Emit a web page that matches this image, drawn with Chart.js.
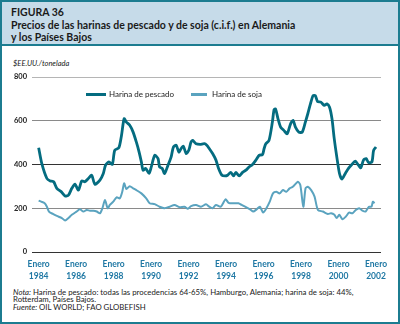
<!DOCTYPE html>
<html>
<head>
<meta charset="utf-8">
<script src="https://cdn.jsdelivr.net/npm/chart.js@4"></script>
<style>
  body { margin: 0; background: #fff; }
  #fig { position: relative; width: 400px; height: 324px; box-sizing: border-box; border: 2px solid #1c7c90; overflow: hidden; font-family: Lato, sans-serif; }
  #head { position: absolute; left: 0; top: 0; width: 396px; height: 42px; background: #c6dbe9; border-bottom: 2px solid #1c7c90; }
  #head div { position: absolute; left: 9px; font-weight: bold; font-size: 10.5px; color: #1a1a1a; white-space: nowrap; }
  #ytitle { position: absolute; left: 11px; top: 57px; font-style: italic; font-size: 7.5px; color: #222; }
  #notes { position: absolute; left: 11px; top: 287px; font-size: 7.8px; line-height: 7.4px; color: #222; white-space: nowrap; }
  canvas { position: absolute; left: -2px; top: -2px; }
</style>
</head>
<body>
<div id="fig">
  <div id="head">
    <div style="top:4px">FIGURA 36</div>
    <div style="top:17px">Precios de las harinas de pescado y de soja (c.i.f.) en Alemania</div>
    <div style="top:29px">y los Países Bajos</div>
  </div>
  <div id="ytitle">$EE.UU./tonelada</div>
  <div id="notes">
    <i>Nota:</i> Harina de pescado: todas las procedencias 64-65%, Hamburgo, Alemania; harina de soja: 44%,<br>
    Rotterdam, Países Bajos.<br>
    <i>Fuente:</i> OIL WORLD; FAO GLOBEFISH
  </div>
  <canvas id="myChart" width="400" height="324"></canvas>
</div>
<script>
// fecha decimal (año) y precio en $EE.UU./tonelada
const fishYears = [1984.0,1984.17,1984.44,1984.62,1984.8,1984.97,1985.2,1985.41,1985.59,1985.77,1985.94,1986.12,1986.3,1986.47,1986.65,1986.83,1987.0,1987.27,1987.45,1987.57,1987.75,1987.93,1988.06,1988.28,1988.42,1988.56,1988.68,1988.86,1989.04,1989.21,1989.36,1989.48,1989.57,1989.71,1989.89,1990.01,1990.19,1990.37,1990.45,1990.59,1990.72,1990.9,1991.07,1991.19,1991.34,1991.48,1991.6,1991.72,1991.87,1992.01,1992.13,1992.22,1992.4,1992.61,1992.84,1992.97,1993.1,1993.28,1993.46,1993.6,1993.78,1993.95,1994.08,1994.25,1994.4,1994.52,1994.7,1994.88,1995.06,1995.23,1995.41,1995.59,1995.76,1995.94,1996.03,1996.12,1996.29,1996.47,1996.56,1996.64,1996.77,1996.91,1997.08,1997.26,1997.44,1997.58,1997.7,1997.88,1998.06,1998.23,1998.36,1998.5,1998.64,1998.76,1998.88,1999.06,1999.24,1999.38,1999.52,1999.65,1999.77,1999.92,2000.05,2000.18,2000.36,2000.53,2000.71,2000.89,2001.06,2001.19,2001.33,2001.47,2001.6,2001.78,2001.87,2002.0];
const fishValues = [477,404,336,325,321,291,276,256,260,291,310,283,325,321,336,351,310,329,359,397,412,401,465,477,533,609,594,579,548,503,457,412,374,382,359,389,442,427,389,382,359,397,435,480,488,457,473,483,450,465,503,510,495,492,495,488,473,450,420,382,351,348,351,364,348,364,348,364,374,389,400,420,442,445,473,495,510,594,651,654,609,571,556,541,586,601,571,548,548,594,632,677,715,715,688,685,670,677,662,609,518,427,359,333,359,382,400,415,397,385,420,427,409,412,465,480];

const soyYears = [1984.0,1984.14,1984.32,1984.44,1984.55,1984.76,1984.97,1985.24,1985.41,1985.59,1985.77,1986.03,1986.2,1986.39,1986.56,1986.74,1986.92,1987.1,1987.27,1987.4,1987.54,1987.68,1987.8,1987.98,1988.16,1988.33,1988.46,1988.56,1988.68,1988.86,1989.04,1989.21,1989.48,1989.74,1989.92,1990.19,1990.45,1990.72,1990.98,1991.25,1991.52,1991.78,1991.96,1992.13,1992.4,1992.66,1992.93,1993.1,1993.28,1993.46,1993.72,1993.97,1994.13,1994.4,1994.66,1994.83,1995.01,1995.28,1995.45,1995.63,1995.8,1995.98,1996.15,1996.33,1996.5,1996.68,1996.86,1997.04,1997.21,1997.39,1997.56,1997.83,1997.96,1998.12,1998.24,1998.36,1998.54,1998.72,1998.9,1999.16,1999.43,1999.6,1999.78,1999.9,2000.04,2000.21,2000.39,2000.56,2000.74,2000.92,2001.1,2001.27,2001.44,2001.62,2001.76,2001.83,2001.92];
const soyValues = [235,230,223,207,185,174,165,155,144,155,170,185,195,185,192,189,189,185,177,200,238,200,215,230,250,245,275,314,288,301,291,283,268,245,223,219,207,200,207,215,205,207,198,210,215,207,218,207,200,215,207,241,225,223,223,215,207,195,185,195,207,180,200,230,268,275,268,283,275,291,298,321,306,207,291,298,283,253,192,185,174,177,170,155,170,150,162,180,177,192,200,189,185,207,207,230,223];

const yearTicks = [1984,1986,1988,1990,1992,1994,1996,1998,2000,2002];
const labels = ['Harina de pescado', 'Harina de soja'];

function toPoints(xs, ys) {
  return xs.map((x, i) => ({ x: x, y: ys[i] }));
}

// leyenda dentro del área del gráfico
const innerLegend = {
  id: 'innerLegend',
  afterDatasetsDraw(chart) {
    const ctx = chart.ctx;
    const items = [
      { x0: 86, x1: 106, tx: 109, ds: chart.data.datasets[0] },
      { x0: 191, x1: 207, tx: 212, ds: chart.data.datasets[1] }
    ];
    const y = 94.5;
    ctx.save();
    items.forEach(it => {
      ctx.strokeStyle = it.ds.borderColor;
      ctx.lineWidth = 3;
      ctx.beginPath();
      ctx.moveTo(it.x0, y);
      ctx.lineTo(it.x1, y);
      ctx.stroke();
      ctx.fillStyle = '#222';
      ctx.font = '8px Lato';
      ctx.textBaseline = 'middle';
      ctx.fillText(it.ds.label, it.tx, y);
    });
    ctx.restore();
  }
};

const ctx = document.getElementById('myChart').getContext('2d');
new Chart(ctx, {
  type: 'line',
  data: {
    datasets: [
      {
        label: labels[0],
        data: toPoints(fishYears, fishValues),
        borderColor: '#046c80',
        borderWidth: 2.8,
        pointRadius: 0,
        tension: 0.25
      },
      {
        label: labels[1],
        data: toPoints(soyYears, soyValues),
        borderColor: '#5aa3bf',
        borderWidth: 2,
        pointRadius: 0,
        tension: 0.25
      }
    ]
  },
  options: {
    responsive: false,
    animation: false,
    layout: { padding: { left: 0, right: 19, top: 77, bottom: 42 } },
    plugins: {
      legend: { display: false },
      tooltip: { enabled: false }
    },
    scales: {
      x: {
        type: 'linear',
        min: 1983.645,
        max: 2002.265,
        grid: { display: false, drawTicks: false },
        border: { display: false },
        afterBuildTicks(scale) {
          scale.ticks = yearTicks.map(v => ({ value: v }));
        },
        afterFit(scale) { scale.height = 30; },
        ticks: {
          autoSkip: false,
          maxRotation: 0,
          padding: 6,
          color: '#1f78a4',
          font: { family: 'Lato', size: 8.5, weight: 'bold', lineHeight: 1.4 },
          callback: v => ['Enero', String(v)]
        }
      },
      y: {
        min: 0,
        max: 800,
        border: { display: false },
        afterFit(scale) { scale.width = 32; },
        grid: {
          drawTicks: false,
          lineWidth: 1,
          color: c => (c.tick.value === 0 || c.tick.value === 400) ? '#333' : (c.tick.value === 800 ? '#b5b5b5' : '#8a8a8a')
        },
        ticks: {
          stepSize: 200,
          padding: 5,
          color: '#222',
          font: { family: 'Lato', size: 7.5, weight: 'bold' }
        }
      }
    }
  },
  plugins: [innerLegend]
});
</script>
</body>
</html>
